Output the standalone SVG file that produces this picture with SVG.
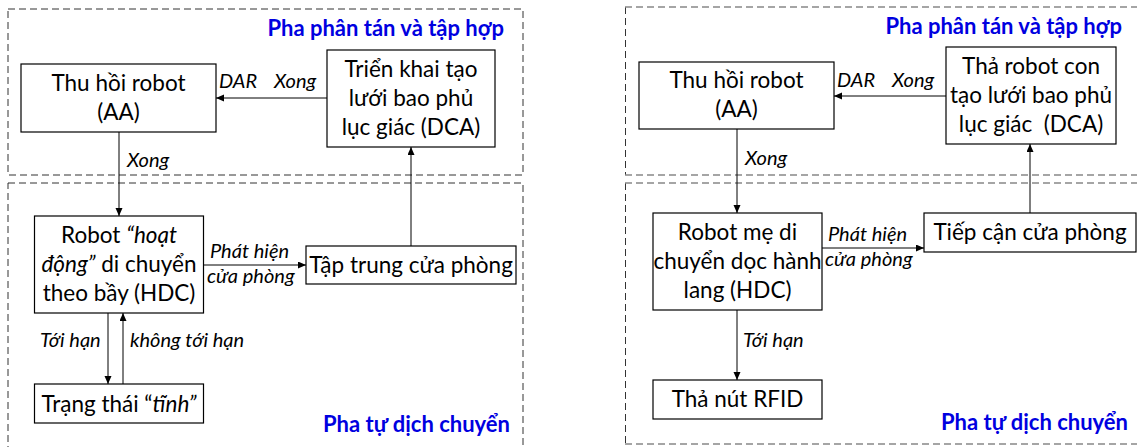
<svg xmlns="http://www.w3.org/2000/svg" width="1137" height="447" viewBox="0 0 1137 447">
  <style>
    .panel { fill: none; stroke: #333; stroke-width: 1; stroke-dasharray: 7 4; }
    .panel-g { fill: none; stroke: #888; stroke-width: 1.5; stroke-dasharray: 7 4; }
    .box { fill: #fff; stroke: #000; stroke-width: 1.2; }
    .t { font-family: Lato, "Open Sans", "Liberation Sans", sans-serif; font-size: 22.5px; fill: #000; text-anchor: middle; }
    .lbl { font-family: Lato, "Open Sans", "Liberation Sans", sans-serif; font-size: 20px; font-style: italic; fill: #000; }
    .phase { font-family: Lato, "Open Sans", "Liberation Sans", sans-serif; font-size: 22px; font-weight: bold; fill: #0000e0; text-anchor: end; }
    .i { font-style: italic; }
    .edge { fill: none; stroke: #000; stroke-width: 1; marker-end: url(#arrow); }
  </style>
  <defs>
    <marker id="arrow" markerUnits="userSpaceOnUse" markerWidth="9" markerHeight="8" refX="8" refY="3.5" orient="auto">
      <path d="M0,0 L8,3.5 L0,7 z" fill="#000"/>
    </marker>
  </defs>

  <!-- Phase frames, left scheme -->
  <g id="left-phases">
    <rect class="panel" x="8" y="9" width="515" height="166"/>
    <rect class="panel" x="8" y="183" width="515" height="280"/>
    <text class="phase" x="504" y="36">Pha phân tán và tập hợp</text>
    <text class="phase" x="510" y="432">Pha tự dịch chuyển</text>
  </g>

  <!-- Phase frames, right scheme -->
  <g id="right-phases">
    <line class="panel" x1="625.5" y1="7" x2="625.5" y2="175"/>
    <line class="panel-g" x1="625" y1="7" x2="1140" y2="7"/>
    <line class="panel-g" x1="625" y1="175" x2="1140" y2="175"/>
    <line class="panel" x1="625.5" y1="183" x2="625.5" y2="444"/>
    <line class="panel-g" x1="625" y1="183" x2="1140" y2="183"/>
    <line class="panel-g" x1="625" y1="444" x2="1140" y2="444"/>
    <text class="phase" x="1122" y="34">Pha phân tán và tập hợp</text>
    <text class="phase" x="1128" y="430">Pha tự dịch chuyển</text>
  </g>

  <!-- Connectors -->
  <g id="connectors">
    <!-- left scheme -->
    <line class="edge" x1="327" y1="98" x2="216" y2="98"/>
    <line class="edge" x1="119" y1="132" x2="119" y2="216"/>
    <line class="edge" x1="411" y1="246" x2="411" y2="147"/>
    <line class="edge" x1="203.5" y1="265" x2="306" y2="265"/>
    <line class="edge" x1="108" y1="313" x2="108" y2="384"/>
    <line class="edge" x1="123" y1="384" x2="123" y2="313"/>
    <text class="lbl" x="219" y="88">DAR</text>
    <text class="lbl" x="274" y="88">Xong</text>
    <text class="lbl" x="127" y="167">Xong</text>
    <text class="lbl" x="210" y="258">Phát hiện</text>
    <text class="lbl" x="207" y="283">cửa phòng</text>
    <text class="lbl" x="40" y="347">Tới hạn</text>
    <text class="lbl" x="130" y="347">không tới hạn</text>
    <!-- right scheme -->
    <line class="edge" x1="946" y1="96" x2="834" y2="96"/>
    <line class="edge" x1="737" y1="129" x2="737" y2="213"/>
    <line class="edge" x1="1030" y1="213" x2="1030" y2="144"/>
    <line class="edge" x1="822" y1="248" x2="924" y2="248"/>
    <line class="edge" x1="737" y1="310" x2="737" y2="380"/>
    <text class="lbl" x="837" y="87">DAR</text>
    <text class="lbl" x="892" y="87">Xong</text>
    <text class="lbl" x="745" y="165">Xong</text>
    <text class="lbl" x="828" y="241">Phát hiện</text>
    <text class="lbl" x="825" y="266">cửa phòng</text>
    <text class="lbl" x="743" y="347">Tới hạn</text>
  </g>

  <!-- Left scheme nodes -->
  <g id="l-aa">
    <rect class="box" x="21" y="64" width="195" height="68"/>
    <text class="t" x="118.5" y="91">Thu hồi robot</text>
    <text class="t" x="118.5" y="120">(AA)</text>
  </g>
  <g id="l-dca">
    <rect class="box" x="327" y="50" width="168" height="97"/>
    <text class="t" x="411" y="77">Triển khai tạo</text>
    <text class="t" x="411" y="106">lưới bao phủ</text>
    <text class="t" x="411" y="135">lục giác (DCA)</text>
  </g>
  <g id="l-hdc">
    <rect class="box" x="34.5" y="216" width="169" height="97"/>
    <text class="t" x="119" y="243">Robot <tspan class="i">“hoạt</tspan></text>
    <text class="t" x="119" y="272"><tspan class="i">động”</tspan> di chuyển</text>
    <text class="t" x="119" y="301">theo bầy (HDC)</text>
  </g>
  <g id="l-door">
    <rect class="box" x="306" y="246" width="210" height="38"/>
    <text class="t" x="411" y="273">Tập trung cửa phòng</text>
  </g>
  <g id="l-static">
    <rect class="box" x="34.5" y="384" width="169" height="39"/>
    <text class="t" x="119" y="412">Trạng thái “<tspan class="i">tĩnh”</tspan></text>
  </g>

  <!-- Right scheme nodes -->
  <g id="r-aa">
    <rect class="box" x="639" y="62" width="195" height="67"/>
    <text class="t" x="736.5" y="88">Thu hồi robot</text>
    <text class="t" x="736.5" y="117">(AA)</text>
  </g>
  <g id="r-dca">
    <rect class="box" x="946" y="47" width="170" height="97"/>
    <text class="t" x="1031" y="74">Thả robot con</text>
    <text class="t" x="1031" y="103">tạo lưới bao phủ</text>
    <text class="t" x="1031" y="132" xml:space="preserve">lục giác  (DCA)</text>
  </g>
  <g id="r-hdc">
    <rect class="box" x="653" y="213" width="169" height="97"/>
    <text class="t" x="737.5" y="240">Robot mẹ di</text>
    <text class="t" x="737.5" y="269">chuyển dọc hành</text>
    <text class="t" x="737.5" y="298">lang (HDC)</text>
  </g>
  <g id="r-door">
    <rect class="box" x="924" y="213" width="212" height="39"/>
    <text class="t" x="1030" y="240">Tiếp cận cửa phòng</text>
  </g>
  <g id="r-rfid">
    <rect class="box" x="653" y="380" width="169" height="39"/>
    <text class="t" x="737.5" y="407">Thả nút RFID</text>
  </g>
</svg>
